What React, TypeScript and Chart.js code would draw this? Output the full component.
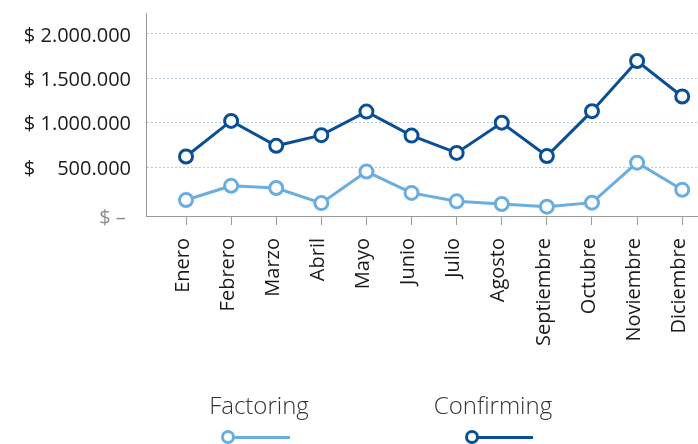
import React, { useEffect, useRef } from "react";
import { Chart, registerables } from "chart.js";

Chart.register(...registerables);

const months = [
  "Enero", "Febrero", "Marzo", "Abril", "Mayo", "Junio",
  "Julio", "Agosto", "Septiembre", "Octubre", "Noviembre", "Diciembre",
];

const factoring = [130000, 290000, 265000, 95000, 450000, 210000, 115000, 85000, 55000, 100000, 550000, 245000];
const confirming = [620000, 1020000, 740000, 860000, 1125000, 855000, 660000, 1000000, 625000, 1130000, 1695000, 1295000];

const yTickValues = [0, 500000, 1000000, 1500000, 2000000];
const yTickLabels = ["$ \u2013 ", "$ \u2007\u2008500.000", "$ 1.000.000", "$ 1.500.000", "$ 2.000.000"];

const seriesNames = ["Factoring", "Confirming"];
const seriesColors = ["#6aaee0", "#0a4f96"];

const FONT = "'Open Sans', 'Noto Sans', sans-serif";
const W = 698;
const H = 444;
const Y_MIN = -50000;
const Y_MAX = 2235000;
const X_MIN = -0.887;
const X_MAX = 11.35;

export default function App() {
  const canvasRef = useRef<HTMLCanvasElement | null>(null);

  useEffect(() => {
    const canvas = canvasRef.current;
    if (!canvas) return;
    const series = [factoring, confirming];
    const chart = new Chart(canvas, {
      type: "line",
      data: {
        datasets: series.map((vals, s) => ({
          label: seriesNames[s],
          data: vals.map((v, i) => ({ x: i, y: v })),
          borderColor: seriesColors[s],
          backgroundColor: "#ffffff",
          borderWidth: 3,
          pointRadius: 6.5,
          pointBorderWidth: 3,
          pointBackgroundColor: "#ffffff",
          pointBorderColor: seriesColors[s],
          tension: 0,
          fill: false,
          clip: 20,
        })),
      },
      options: {
        responsive: false,
        animation: false,
        layout: { autoPadding: false, padding: { top: 13, left: 0, right: 0, bottom: 0 } },
        plugins: {
          legend: { display: false },
          tooltip: { enabled: false },
        },
        scales: {
          x: {
            type: "linear",
            min: X_MIN,
            max: X_MAX,
            afterBuildTicks: (scale: any) => {
              scale.ticks = months.map((_, i) => ({ value: i }));
            },
            afterFit: (scale: any) => {
              scale.height = H - 216;
              scale.paddingLeft = 0;
              scale.paddingRight = 0;
            },
            grid: {
              display: true,
              drawOnChartArea: false,
              drawTicks: true,
              tickLength: 9,
              color: "#9a9a9a",
              lineWidth: 1,
            },
            border: { display: true, color: "#9a9a9a", width: 1 },
            ticks: {
              autoSkip: false,
              maxRotation: 90,
              minRotation: 90,
              padding: 13,
              labelOffset: -3,
              color: "#1a1a1a",
              font: { family: FONT, size: 20 },
              callback: (v: any) => months[v as number] ?? "",
            },
          },
          y: {
            type: "linear",
            min: Y_MIN,
            max: Y_MAX,
            afterBuildTicks: (scale: any) => {
              scale.ticks = yTickValues.map((v) => ({ value: v === 0 ? Y_MIN : v }));
            },
            afterFit: (scale: any) => {
              scale.width = 146;
              scale.paddingTop = 0;
              scale.paddingBottom = 0;
            },
            grid: {
              display: true,
              drawTicks: false,
              color: "#b4c6d8",
              lineWidth: 1,
            },
            border: { display: true, color: "#9a9a9a", width: 1, dash: [2, 2] },
            ticks: {
              padding: 15,
              labelOffset: 2,
              color: (ctx: any) => (ctx.index === 0 ? "#8c8c8c" : "#1a1a1a"),
              font: { family: FONT, size: 20 },
              callback: (_v: any, i: number) => yTickLabels[i] ?? "",
            },
          },
        },
      },
    });
    return () => chart.destroy();
  }, []);

  const legendItems = [
    { name: seriesNames[0], color: seriesColors[0], textCenter: 259, circleX: 228, lineEnd: 290 },
    { name: seriesNames[1], color: seriesColors[1], textCenter: 493, circleX: 472, lineEnd: 533 },
  ];

  return (
    <div style={{ position: "absolute", left: 0, top: 0, width: W, height: H, background: "#fff", overflow: "hidden" }}>
      <canvas ref={canvasRef} width={W} height={H} style={{ position: "absolute", left: 0, top: 0, width: W, height: H }} />
      {legendItems.map((it) => (
        <React.Fragment key={it.name}>
          <div
            style={{
              position: "absolute",
              left: it.textCenter - 100,
              width: 200,
              top: 393,
              textAlign: "center",
              fontFamily: FONT,
              fontWeight: 300,
              fontSize: 24,
              lineHeight: "24px",
              color: "#333",
              whiteSpace: "nowrap",
            }}
          >
            {it.name}
          </div>
          <div
            style={{
              position: "absolute",
              left: it.circleX,
              top: 435.5,
              width: it.lineEnd - it.circleX,
              height: 3,
              background: it.color,
            }}
          />
          <div
            style={{
              position: "absolute",
              left: it.circleX - 7,
              top: 430,
              width: 8,
              height: 8,
              borderRadius: "50%",
              border: `3px solid ${it.color}`,
              background: "#fff",
            }}
          />
        </React.Fragment>
      ))}
    </div>
  );
}
